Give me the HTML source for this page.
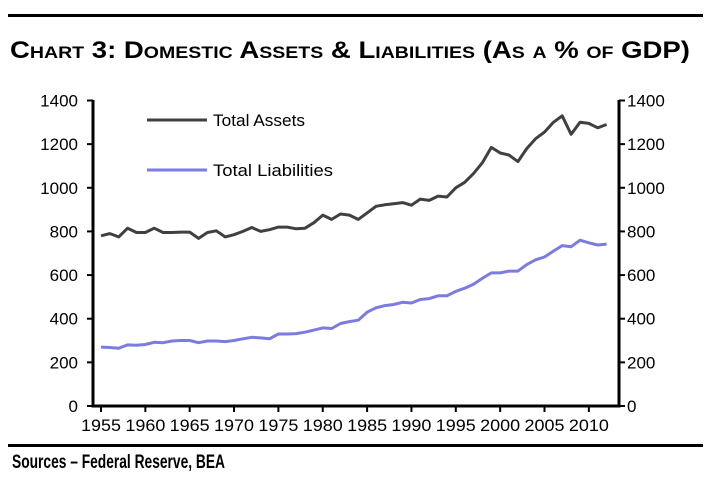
<!DOCTYPE html>
<html><head><meta charset="utf-8"><style>
html,body{margin:0;padding:0;background:#fff;}
svg{display:block;font-family:"Liberation Sans",sans-serif;}
</style></head><body>
<svg id="chart" width="712" height="482" viewBox="0 0 712 482">
<rect x="8" y="14" width="695" height="3" fill="#000"/>
<text x="350" y="58" text-anchor="middle" font-size="24" font-weight="bold" textLength="680" lengthAdjust="spacingAndGlyphs" style="font-variant:small-caps">Chart 3: Domestic Assets &amp; Liabilities (As a % of GDP)</text>
<g id="axes"></g>
<g id="series"></g>
<g>
<line x1="147" y1="120" x2="207" y2="120" stroke="#404040" stroke-width="3"/>
<text x="213" y="126" font-size="17" textLength="92" lengthAdjust="spacingAndGlyphs">Total Assets</text>
<line x1="147" y1="170" x2="207" y2="170" stroke="#7b7be0" stroke-width="3"/>
<text x="213" y="176" font-size="17" textLength="120" lengthAdjust="spacingAndGlyphs">Total Liabilities</text>
</g>
<rect x="8" y="444" width="695" height="3" fill="#000"/>
<text x="12" y="468" font-size="19" font-weight="bold" textLength="213" lengthAdjust="spacingAndGlyphs">Sources – Federal Reserve, BEA</text>
</svg>
<script>
const years = [];
for (let y = 1955; y <= 2012; y++) years.push(y);
const assets = [780,790,775,815,795,795,815,795,795,797,797,768,795,803,775,785,800,818,800,808,820,820,812,815,840,875,855,880,875,855,885,915,922,927,932,920,948,942,962,958,1000,1025,1065,1115,1185,1160,1150,1120,1180,1225,1255,1300,1330,1245,1300,1295,1275,1290];
const liabilities = [270,268,265,280,278,282,292,290,298,300,300,290,298,298,295,300,308,315,312,308,330,330,332,338,348,358,355,378,387,393,430,450,460,465,475,472,488,492,505,505,525,540,558,585,610,610,618,618,648,670,683,710,735,730,760,748,738,742];
const yTicks = [0,200,400,600,800,1000,1200,1400];
const xTicks = [1955,1960,1965,1970,1975,1980,1985,1990,1995,2000,2005,2010];

const NS = "http://www.w3.org/2000/svg";
const xS = yr => 101 + (yr - 1955) * 8.87;
const yS = v => 406 - v * (305.5 / 1400);
function mk(tag, attrs, parent) {
  const e = document.createElementNS(NS, tag);
  for (const k in attrs) e.setAttribute(k, attrs[k]);
  parent.appendChild(e);
  return e;
}
const axes = document.getElementById("axes");
const L = 93, R = 619, B = 406, T = 101;
let a;
a = mk("line", {x1: L, y1: T - 1, x2: L, y2: B + 1.5, stroke: "#000", "stroke-width": 3}, axes);


a = mk("line", {x1: R, y1: T - 1, x2: R, y2: B + 1.5, stroke: "#000", "stroke-width": 3}, axes);


a = mk("line", {x1: L, y1: B, x2: R, y2: B, stroke: "#000", "stroke-width": 3}, axes);


yTicks.forEach(v => {
  const y = yS(v);
  let t = mk("line", {x1: L - 6, y1: y, x2: L, y2: y, stroke: "#000", "stroke-width": 2}, axes);
  
  
  t = mk("line", {x1: R, y1: y, x2: R + 6, y2: y, stroke: "#000", "stroke-width": 2}, axes);
  
  
  let lb = mk("text", {x: 78, y: y + 6, "text-anchor": "end", "font-size": 17}, axes);
  lb.textContent = v;
  
  
  lb = mk("text", {x: 627, y: y + 6, "text-anchor": "start", "font-size": 17}, axes);
  lb.textContent = v;
  
  
});
xTicks.forEach(yr => {
  const x = xS(yr);
  const t = mk("line", {x1: x, y1: B, x2: x, y2: B + 6, stroke: "#000", "stroke-width": 2}, axes);
  
  
  const lb = mk("text", {x: x, y: 431, "text-anchor": "middle", "font-size": 17, textLength: 40, lengthAdjust: "spacingAndGlyphs"}, axes);
  lb.textContent = yr;
  
  
});
const series = document.getElementById("series");
function path(vals, color, name) {
  const d = vals.map((v, i) => (i ? "L" : "M") + xS(years[i]).toFixed(1) + "," + yS(v).toFixed(1)).join(" ");
  const p = mk("path", {d: d, fill: "none", stroke: color, "stroke-width": 3, "stroke-linejoin": "round"}, series);
  
  
}
path(liabilities, "#7b7be0", "total-liabilities-line");
path(assets, "#404040", "total-assets-line");
</script>
</body></html>
